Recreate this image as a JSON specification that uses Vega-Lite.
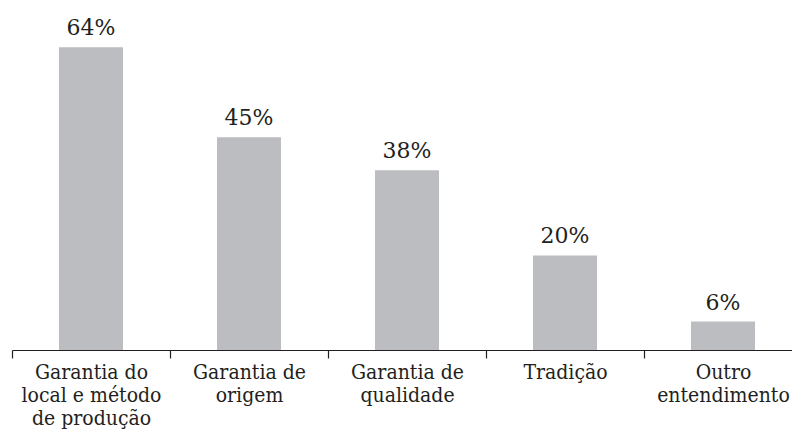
{
  "$schema": "https://vega.github.io/schema/vega-lite/v6.json",
  "autosize": "none",
  "width": 780,
  "height": 350,
  "padding": {"left": 12, "top": 0, "right": 0, "bottom": 82},
  "background": "white",
  "config": {"view": {"stroke": null}, "font": "DejaVu Serif"},
  "data": {
    "values": [
      {"categoria": "Garantia do local e método de produção", "valor": 0.64},
      {"categoria": "Garantia de origem", "valor": 0.45},
      {"categoria": "Garantia de qualidade", "valor": 0.38},
      {"categoria": "Tradição", "valor": 0.20},
      {"categoria": "Outro entendimento", "valor": 0.06}
    ]
  },
  "encoding": {
    "x": {
      "field": "categoria",
      "type": "nominal",
      "sort": null,
      "scale": {"range": [0, 790], "paddingInner": 0, "paddingOuter": 0},
      "axis": {
        "title": null,
        "labelAngle": 0,
        "tickBand": "extent",
        "tickSize": 8,
        "tickColor": "#231f20",
        "domainColor": "#231f20",
        "tickWidth": 1.2,
        "domainWidth": 1.2,
        "labelPadding": 3,
        "labelFont": "DejaVu Serif Condensed",
        "labelFontSize": 21,
        "labelLineHeight": 23,
        "labelColor": "#231f20",
        "labelLimit": 0,
        "labelOverlap": false,
        "labelBaseline": "top",
        "labelExpr": "datum.label == 'Garantia do local e método de produção' ? ['Garantia do', 'local e método', 'de produção'] : datum.label == 'Garantia de origem' ? ['Garantia de', 'origem'] : datum.label == 'Garantia de qualidade' ? ['Garantia de', 'qualidade'] : datum.label == 'Outro entendimento' ? ['Outro', 'entendimento'] : datum.label"
      }
    },
    "y": {
      "field": "valor",
      "type": "quantitative",
      "scale": {"domain": [0, 0.74], "nice": false},
      "axis": null
    }
  },
  "layer": [
    {
      "mark": {"type": "bar", "color": "#bcbdc0", "width": {"band": 0.405}}
    },
    {
      "mark": {
        "type": "text",
        "baseline": "alphabetic",
        "dy": -12,
        "font": "DejaVu Serif",
        "fontSize": 22,
        "color": "#231f20"
      },
      "encoding": {
        "text": {"field": "valor", "type": "quantitative", "format": ".0%"}
      }
    }
  ]
}
